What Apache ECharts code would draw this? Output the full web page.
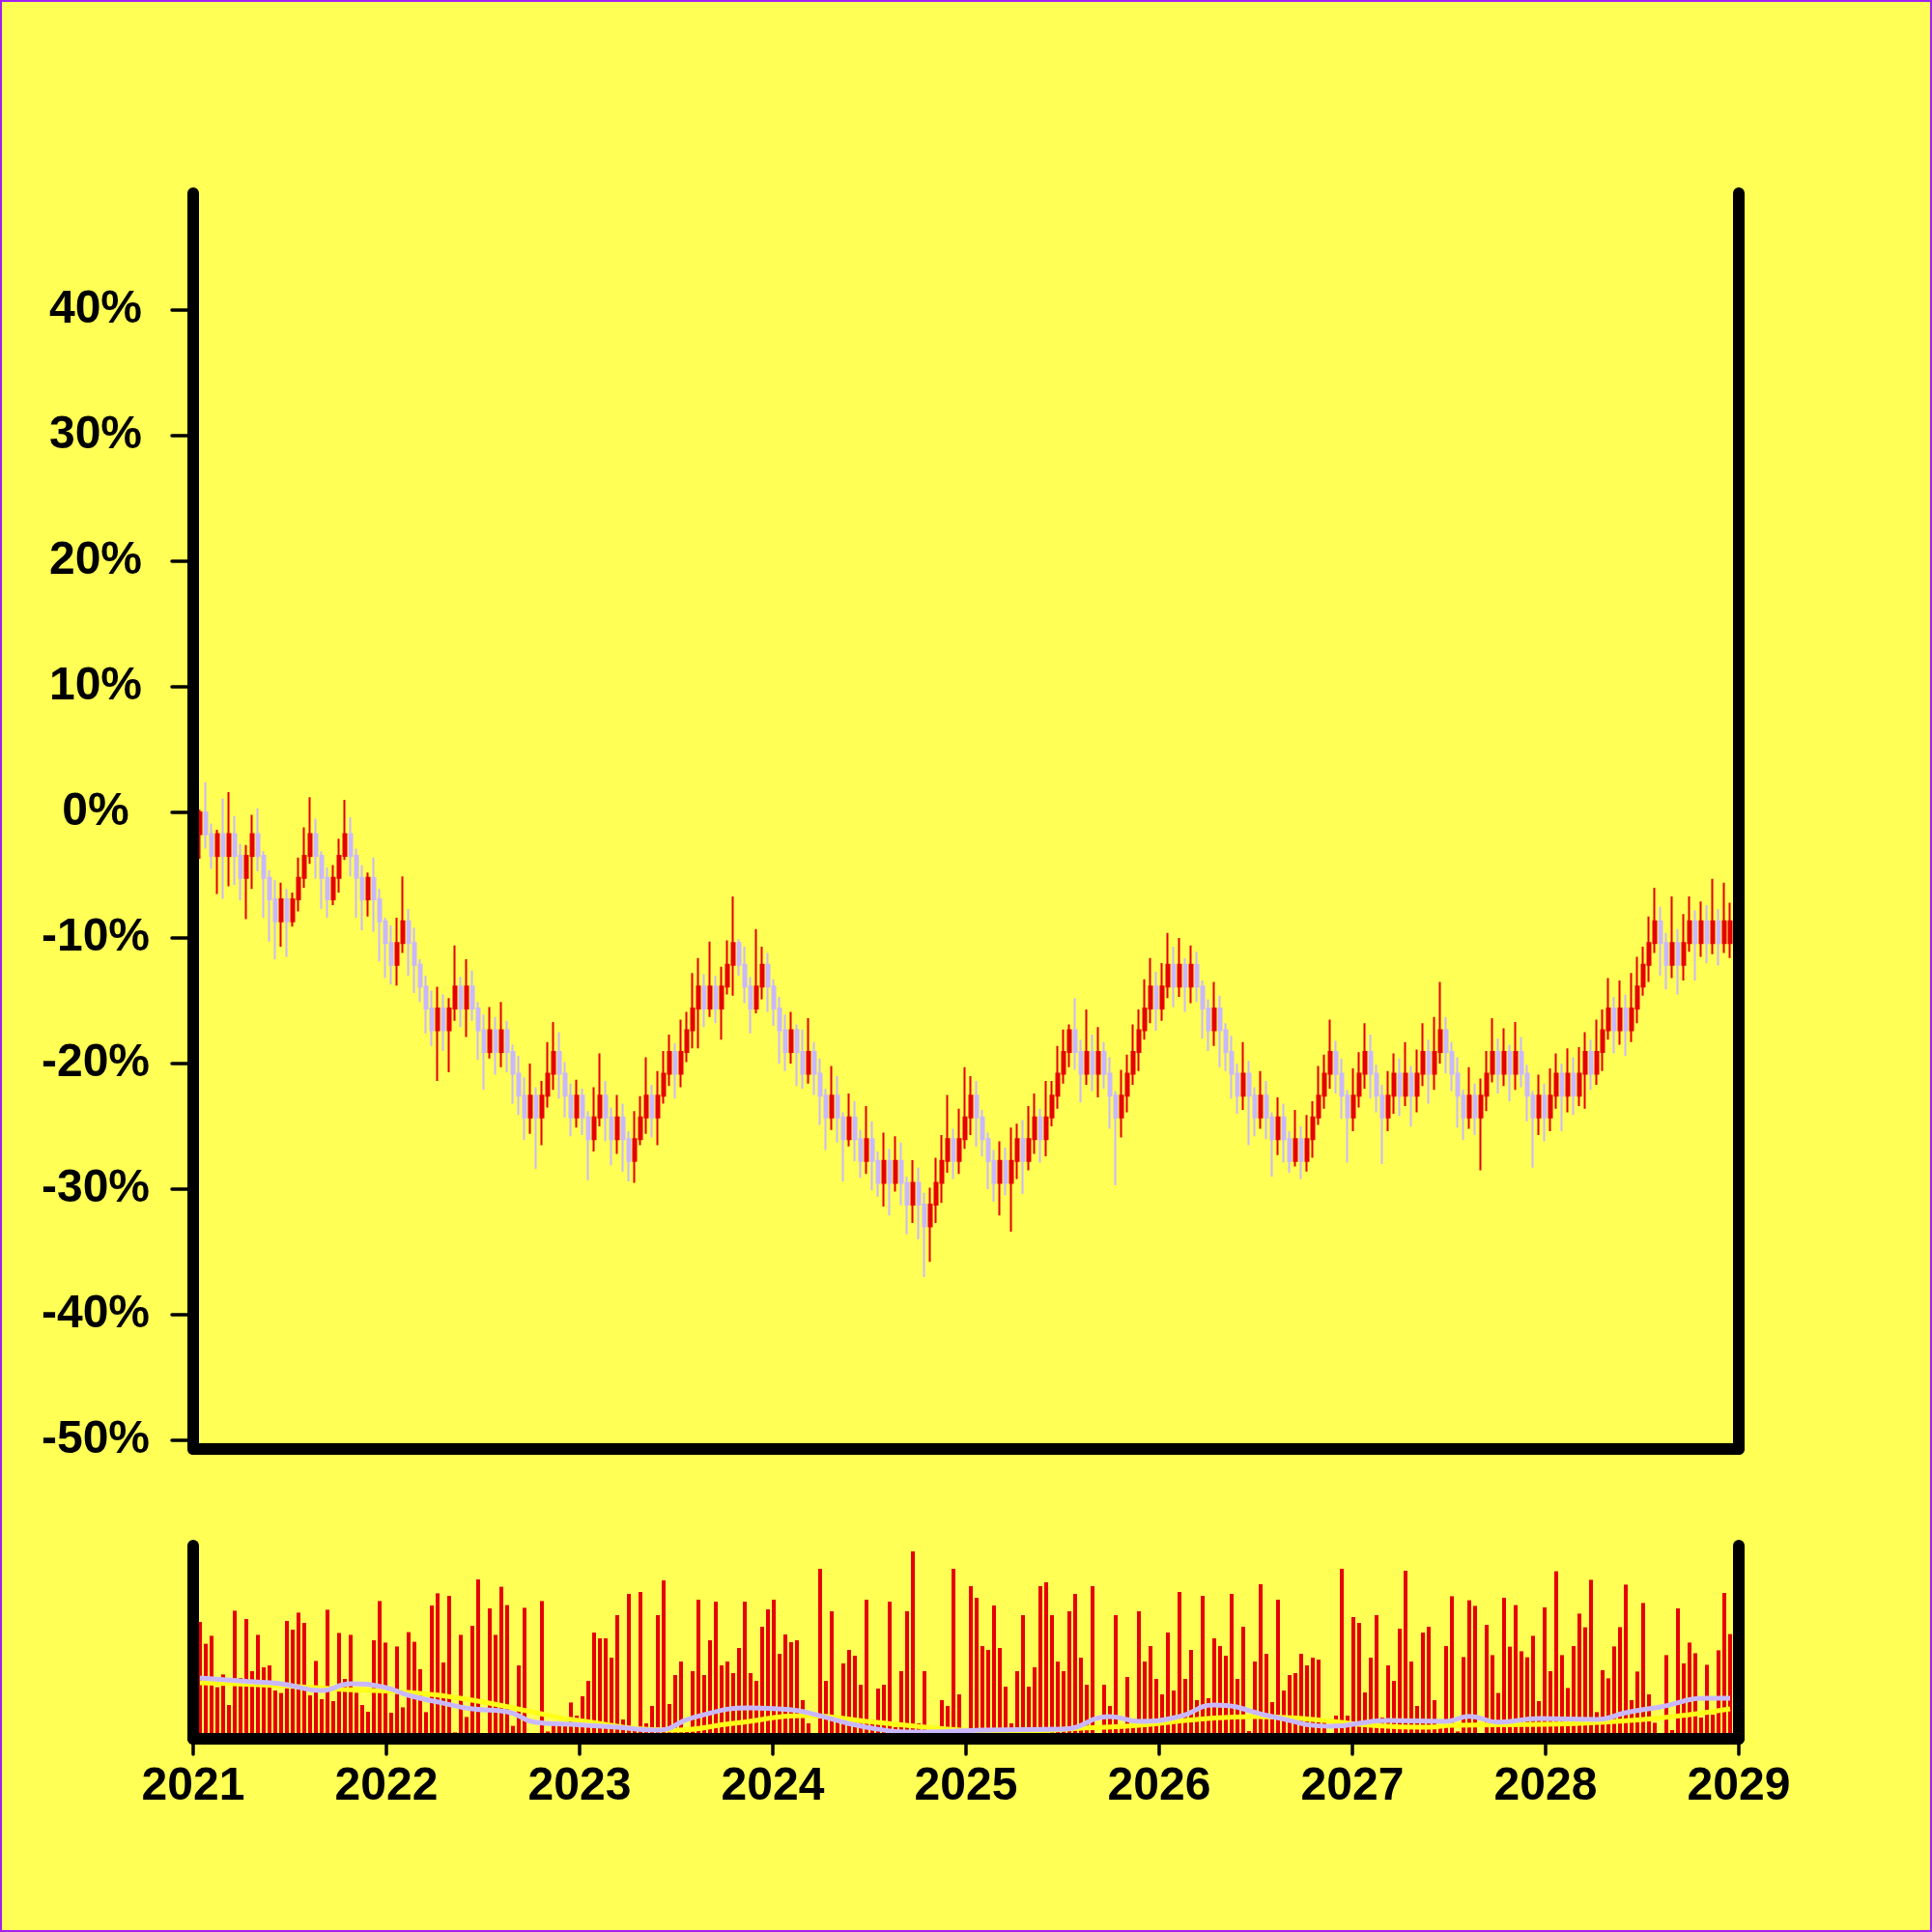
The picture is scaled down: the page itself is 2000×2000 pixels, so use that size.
<!DOCTYPE html>
<html><head><meta charset="utf-8">
<script src="https://cdn.jsdelivr.net/npm/echarts@6/dist/echarts.min.js"></script>
<style>html,body{margin:0;padding:0;background:#ffff55}#c{width:2000px;height:2000px}</style>
</head><body><div id="c"></div>
<script>
// ---- tick labels ----
const yTickValues = [-50, -40, -30, -20, -10, 0, 10, 20, 30, 40];
const yearTicks = [2021, 2022, 2023, 2024, 2025, 2026, 2027, 2028, 2029];

// ---- candle timing (decimal years) ----
const firstCandleYear = 2021.035;
const candleStepYears = 0.030;

// ---- OHLC in percent ----
const opens = [
-1.74,0,-1.74,-3.47,-1.74,-3.47,-1.74,-3.47,-5.21,-3.47,
-1.74,-3.47,-5.21,-6.94,-8.68,-6.94,-8.68,-6.94,-5.21,-3.47,
-1.74,-3.47,-5.21,-6.94,-5.21,-3.47,-1.74,-3.47,-5.21,-6.94,
-5.21,-6.94,-8.68,-10.41,-12.15,-10.41,-8.68,-10.41,-12.15,-13.88,
-15.62,-17.35,-15.62,-17.35,-15.62,-13.88,-15.62,-13.88,-15.62,-17.35,
-19.09,-17.35,-19.09,-17.35,-19.09,-20.82,-22.56,-24.29,-22.56,-24.29,
-22.56,-20.82,-19.09,-20.82,-22.56,-24.29,-22.56,-24.29,-26.03,-24.29,
-22.56,-24.29,-26.03,-24.29,-26.03,-27.76,-26.03,-24.29,-22.56,-24.29,
-22.56,-20.82,-19.09,-20.82,-19.09,-17.35,-15.62,-13.88,-15.62,-13.88,
-15.62,-13.88,-12.15,-10.41,-12.15,-13.88,-15.62,-13.88,-12.15,-13.88,
-15.62,-17.35,-19.09,-17.35,-19.09,-20.82,-19.09,-20.82,-22.56,-24.29,
-22.56,-24.29,-26.03,-24.29,-26.03,-27.76,-26.03,-27.76,-29.5,-27.76,
-29.5,-27.76,-29.5,-31.23,-29.5,-31.23,-32.97,-31.23,-29.5,-27.76,
-26.03,-27.76,-26.03,-24.29,-22.56,-24.29,-26.03,-27.76,-29.5,-27.76,
-29.5,-27.76,-26.03,-27.76,-26.03,-24.29,-26.03,-24.29,-22.56,-20.82,
-19.09,-17.35,-19.09,-20.82,-19.09,-20.82,-19.09,-20.82,-22.56,-24.29,
-22.56,-20.82,-19.09,-17.35,-15.62,-13.88,-15.62,-13.88,-12.15,-13.88,
-12.15,-13.88,-12.15,-13.88,-15.62,-17.35,-15.62,-17.35,-19.09,-20.82,
-22.56,-20.82,-22.56,-24.29,-22.56,-24.29,-26.03,-24.29,-26.03,-27.76,
-26.03,-27.76,-26.03,-24.29,-22.56,-20.82,-19.09,-20.82,-22.56,-24.29,
-22.56,-20.82,-19.09,-20.82,-22.56,-24.29,-22.56,-20.82,-22.56,-20.82,
-22.56,-20.82,-19.09,-20.82,-19.09,-17.35,-19.09,-20.82,-22.56,-24.29,
-22.56,-24.29,-22.56,-20.82,-19.09,-20.82,-19.09,-20.82,-19.09,-20.82,
-22.56,-24.29,-22.56,-24.29,-22.56,-20.82,-22.56,-20.82,-22.56,-20.82,
-19.09,-20.82,-19.09,-17.35,-15.62,-17.35,-15.62,-17.35,-15.62,-13.88,
-12.15,-10.41,-8.68,-10.41,-12.15,-10.41,-12.15,-10.41,-8.68,-10.41,
-8.68,-10.41,-8.68,-10.41,-10.41];
const closes = [
0,-1.74,-3.47,-1.74,-3.47,-1.74,-3.47,-5.21,-3.47,-1.74,
-3.47,-5.21,-6.94,-8.68,-6.94,-8.68,-6.94,-5.21,-3.47,-1.74,
-3.47,-5.21,-6.94,-5.21,-3.47,-1.74,-3.47,-5.21,-6.94,-5.21,
-6.94,-8.68,-10.41,-12.15,-10.41,-8.68,-10.41,-12.15,-13.88,-15.62,
-17.35,-15.62,-17.35,-15.62,-13.88,-15.62,-13.88,-15.62,-17.35,-19.09,
-17.35,-19.09,-17.35,-19.09,-20.82,-22.56,-24.29,-22.56,-24.29,-22.56,
-20.82,-19.09,-20.82,-22.56,-24.29,-22.56,-24.29,-26.03,-24.29,-22.56,
-24.29,-26.03,-24.29,-26.03,-27.76,-26.03,-24.29,-22.56,-24.29,-22.56,
-20.82,-19.09,-20.82,-19.09,-17.35,-15.62,-13.88,-15.62,-13.88,-15.62,
-13.88,-12.15,-10.41,-12.15,-13.88,-15.62,-13.88,-12.15,-13.88,-15.62,
-17.35,-19.09,-17.35,-19.09,-20.82,-19.09,-20.82,-22.56,-24.29,-22.56,
-24.29,-26.03,-24.29,-26.03,-27.76,-26.03,-27.76,-29.5,-27.76,-29.5,
-27.76,-29.5,-31.23,-29.5,-31.23,-32.97,-31.23,-29.5,-27.76,-26.03,
-27.76,-26.03,-24.29,-22.56,-24.29,-26.03,-27.76,-29.5,-27.76,-29.5,
-27.76,-26.03,-27.76,-26.03,-24.29,-26.03,-24.29,-22.56,-20.82,-19.09,
-17.35,-19.09,-20.82,-19.09,-20.82,-19.09,-20.82,-22.56,-24.29,-22.56,
-20.82,-19.09,-17.35,-15.62,-13.88,-15.62,-13.88,-12.15,-13.88,-12.15,
-13.88,-12.15,-13.88,-15.62,-17.35,-15.62,-17.35,-19.09,-20.82,-22.56,
-20.82,-22.56,-24.29,-22.56,-24.29,-26.03,-24.29,-26.03,-27.76,-26.03,
-27.76,-26.03,-24.29,-22.56,-20.82,-19.09,-20.82,-22.56,-24.29,-22.56,
-20.82,-19.09,-20.82,-22.56,-24.29,-22.56,-20.82,-22.56,-20.82,-22.56,
-20.82,-19.09,-20.82,-19.09,-17.35,-19.09,-20.82,-22.56,-24.29,-22.56,
-24.29,-22.56,-20.82,-19.09,-20.82,-19.09,-20.82,-19.09,-20.82,-22.56,
-24.29,-22.56,-24.29,-22.56,-20.82,-22.56,-20.82,-22.56,-20.82,-19.09,
-20.82,-19.09,-17.35,-15.62,-17.35,-15.62,-17.35,-15.62,-13.88,-12.15,
-10.41,-8.68,-10.41,-12.15,-10.41,-12.15,-10.41,-8.68,-10.41,-8.68,
-10.41,-8.68,-10.41,-8.68,-8.68];
const highs = [
0.2,2.4,-0.9,-1.4,1.1,1.6,-0.3,-2.5,-2.6,-0.2,
0.3,-3.1,-4.6,-5.4,-5.6,-6.1,-6.4,-3.6,-1.2,1.2,
-0.5,-3.1,-4.4,-4.2,-2.1,1.0,-0.4,-2.9,-4.2,-4.8,
-3.6,-6.1,-8.4,-9.0,-8.4,-5.1,-7.7,-9.2,-11.7,-13.0,
-14.2,-13.9,-14.5,-14.8,-10.6,-13.1,-11.7,-12.6,-15.1,-16.1,
-15.5,-16.3,-15.1,-16.6,-18.5,-19.4,-21.1,-20.0,-21.9,-21.4,
-18.3,-16.7,-17.5,-19.9,-21.6,-21.3,-22.0,-23.8,-21.9,-19.2,
-21.4,-23.5,-22.5,-23.2,-25.4,-23.8,-22.6,-19.5,-21.7,-20.6,
-19.0,-17.7,-18.4,-16.5,-15.9,-12.8,-11.6,-12.9,-10.3,-13.0,
-12.3,-10.2,-6.7,-10.1,-10.7,-13.1,-9.3,-10.7,-11.2,-13.3,
-14.7,-16.1,-15.9,-16.9,-17.3,-16.4,-18.3,-19.6,-22.0,-20.2,
-21.0,-23.9,-22.4,-23.0,-25.3,-23.4,-24.6,-27.0,-25.5,-26.8,
-25.8,-26.3,-29.0,-27.7,-28.3,-30.3,-29.9,-27.5,-25.7,-22.5,
-25.2,-23.6,-20.3,-21.0,-21.4,-23.7,-25.5,-26.9,-26.2,-26.7,
-25.1,-24.8,-24.5,-23.4,-22.4,-23.6,-21.4,-21.4,-18.6,-17.3,
-16.9,-14.8,-18.1,-15.7,-17.7,-17.1,-18.3,-19.5,-22.2,-20.5,
-19.3,-16.9,-15.7,-13.3,-11.6,-12.7,-12.0,-9.6,-10.7,-10.0,
-11.6,-10.6,-11.1,-13.4,-14.9,-13.5,-14.6,-16.8,-17.8,-20.0,
-18.3,-19.8,-21.9,-20.6,-21.4,-23.9,-22.7,-23.2,-25.4,-23.7,
-25.0,-24.1,-23.0,-20.2,-19.3,-16.5,-18.2,-19.6,-22.1,-20.4,
-19.1,-16.8,-17.7,-20.1,-21.7,-20.6,-19.2,-19.6,-18.3,-20.2,
-18.9,-16.8,-18.1,-16.3,-13.5,-16.3,-18.3,-19.5,-22.1,-20.3,
-21.6,-21.2,-19.0,-16.4,-18.0,-17.2,-18.5,-16.7,-17.9,-20.1,
-22.2,-20.9,-21.6,-20.4,-19.2,-20.0,-18.8,-19.5,-18.7,-17.5,
-18.1,-16.5,-15.7,-13.2,-14.7,-13.4,-14.5,-12.8,-11.5,-10.7,
-8.3,-6.0,-7.5,-9.6,-6.7,-9.3,-8.1,-6.7,-7.8,-7.1,
-7.4,-5.3,-7.7,-5.6,-7.2];
const lows = [
-3.7,-2.9,-4.5,-6.5,-6.9,-5.9,-5.8,-7.0,-8.5,-6.1,
-4.7,-8.4,-10.3,-11.7,-10.7,-11.5,-9.1,-7.9,-6.0,-4.1,
-5.3,-7.7,-8.4,-7.4,-6.4,-3.8,-5.1,-8.4,-9.4,-8.3,
-9.5,-11.9,-13.2,-13.7,-13.8,-11.2,-13.0,-14.4,-15.1,-17.6,
-18.6,-21.4,-19.0,-20.7,-16.6,-17.1,-17.9,-16.6,-19.7,-22.1,
-19.6,-20.9,-20.3,-20.7,-23.2,-24.1,-26.1,-25.6,-28.4,-26.5,
-23.5,-22.1,-22.8,-24.3,-25.8,-25.1,-25.7,-29.3,-27.0,-25.0,
-26.2,-28.1,-27.2,-28.6,-29.4,-29.5,-26.5,-25.6,-25.9,-26.5,
-23.2,-21.8,-22.8,-21.9,-19.9,-18.8,-18.8,-17.1,-16.3,-16.8,
-18.1,-14.5,-14.6,-13.0,-15.2,-17.6,-16.0,-14.9,-15.9,-17.0,
-20.0,-20.6,-20.0,-21.8,-22.0,-21.6,-22.5,-24.9,-26.9,-25.3,
-26.3,-29.4,-26.6,-27.8,-29.1,-28.8,-30.1,-30.6,-31.4,-32.1,
-30.2,-31.3,-33.6,-32.7,-34.0,-37.0,-35.8,-32.7,-31.1,-28.7,
-29.2,-28.8,-26.8,-25.7,-26.6,-27.4,-30.0,-31.0,-32.1,-30.5,
-33.4,-29.2,-30.4,-28.5,-27.2,-27.9,-27.4,-25.0,-23.6,-21.6,
-20.3,-20.5,-23.1,-21.7,-22.2,-22.7,-22.0,-25.2,-29.7,-25.9,
-23.9,-21.7,-20.6,-18.1,-16.8,-17.4,-16.6,-14.8,-15.5,-14.7,
-15.9,-15.2,-15.1,-18.0,-19.0,-18.6,-20.3,-20.6,-22.8,-24.0,
-23.7,-26.5,-25.8,-25.2,-26.0,-29.0,-27.3,-27.9,-28.7,-28.2,
-29.2,-28.6,-27.5,-24.9,-23.6,-22.0,-22.4,-24.4,-27.9,-25.4,
-23.5,-22.0,-22.8,-23.9,-28.0,-25.4,-24.0,-24.2,-23.4,-25.0,
-23.9,-21.8,-23.2,-22.1,-20.0,-20.8,-22.2,-25.1,-26.1,-25.2,
-25.7,-28.5,-23.8,-21.5,-22.4,-21.8,-23.0,-22.1,-21.9,-24.6,
-28.3,-25.7,-26.2,-25.4,-23.6,-25.4,-23.9,-24.1,-23.4,-23.6,
-22.1,-21.7,-20.6,-18.1,-19.2,-18.5,-19.4,-18.3,-16.8,-14.6,
-13.5,-11.2,-13.0,-14.1,-13.2,-14.5,-13.4,-11.1,-13.4,-11.5,
-12.0,-11.3,-12.2,-11.2,-11.6];

// ---- volume (relative units, 0-100) ----
const volumes = [
60.5,49.2,53.3,26.7,33.3,17.5,66.3,31.5,62,35,
53.8,37,38,25,23.7,61,56.5,65.3,60,22.5,
40.3,20.5,66.8,19.5,54.8,31,53.8,23.8,17.5,14,
51,71.3,49.8,13.5,47.8,16.3,55.2,50.2,36,13.8,
69,75.3,39.5,74,3.3,53.8,11.3,58.5,82.5,1.5,
67.5,53.8,78.7,69.2,6.7,38,67.8,1,1,71.3,
3.8,7,7,7,18.8,12,22,30,55,52,
52,42,64,10,75,5,76,8,17,64,
82,18,33,40,4,35,72,33,51,71,
38,40,34,47,71,34,30,58,67,72,
44,54,50,51,20,8,3,88,30,66,
10,39,46,43,28,72,10,26,28,71,
6,35,66,97,8,35,2,1,20,17,
88,23,2,79,73,48,46,69,47,27,
8,35,64,27,37,79,81,64,40,35,
66,75,42,28,79,3,28,17,64,6,
32,6,66,40,48,31,23,55,25,76,
31,46,20,74,21,52,48,43,75,31,
58,4,40,80,44,19,72,25,33,34,
44,38,42,41,10,2,12,88,12,63,
60,24,42,64,11,38,30,57,87,40,
17,55,58,20,6,48,
73.8,3.8,42.3,71.7,68.8,2,59,43.3,23.7,73,
47.7,69.2,45.3,42.2,53.3,19.5,68,35,86.7,43.3,
26.3,48,64.8,57.7,82.3,13.8,35.5,31.3,47.8,57.8,
79.8,20,34.8,70.3,23,8.3,1,43.3,4.5,67.5,
39,49.8,44.3,11,38.3,12.5,45.8,75.5,54.2];

// ---- moving-average lines (candle index, price %) ----
const maShortIdx = [0,8,14,21,26,32,36,42,47,53,58,64,72,79,85,95,102,105,115,125,135,149,157,162,169,175,185,195,205,215,219,224,231,241,246,252,260,264];
const maShortVals = [-1.2,-3.1,-4.4,-8,-4.4,-6.4,-10.6,-14.8,-17.9,-19.4,-25.2,-26.2,-27.8,-29.3,-22.6,-17.4,-18.4,-20,-27.8,-30.4,-29.3,-28.8,-22,-24.6,-22,-15.8,-22,-27.2,-24.1,-24.6,-21.9,-25,-23.1,-23.6,-20,-16.8,-12.2,-12.2];
const maLongIdx = [0,14,25,36,47,58,64,82,92,105,115,129,139,152,162,172,182,192,202,212,216,232,241,249,257,264];
const maLongVals = [-3.8,-5.4,-7.5,-9,-13.2,-20,-23.6,-29.3,-25.7,-21.5,-24.6,-28.8,-30.4,-28.3,-26.7,-23.6,-22,-23.6,-26.7,-27.8,-26.7,-26.2,-25.2,-23.6,-21,-17.9];

// ---- build ----
const n = Math.min(opens.length, closes.length, highs.length, lows.length, volumes.length);
const xs = [];
for (let i = 0; i < n; i++) xs.push(firstCandleYear + i * candleStepYears);
const candleData = [];
const volData = [];
for (let i = 0; i < n; i++) {
  candleData.push([xs[i], opens[i], closes[i], lows[i], highs[i]]);
  volData.push([xs[i], volumes[i]]);
}
const maShort = maShortIdx.map((k, j) => [xs[Math.min(k, n - 1)], maShortVals[j]]);
const maLong = maLongIdx.map((k, j) => [xs[Math.min(k, n - 1)], maLongVals[j]]);

const FONT = "'Liberation Sans', Arial, Helvetica, sans-serif";
const RED = '#e60000', LAV = '#c9b8ff', BG = '#ffff55';
const axisLine = { show: true, onZero: false, lineStyle: { color: '#000', width: 12, cap: 'round' } };
const lineOnlyY = (grid, min, max, pos) => ({
  type: 'value', gridIndex: grid, min: min, max: max, position: pos, z: 10,
  axisLine: axisLine, axisTick: { show: false }, axisLabel: { show: false }, splitLine: { show: false }
});

const chart = echarts.init(document.getElementById('c'), null, { renderer: 'canvas' });
chart.setOption({
  backgroundColor: BG,
  animation: false,
  grid: [
    { left: 200, right: 200, top: 200, height: 1300 },
    { left: 200, right: 200, top: 1600, height: 200 }
  ],
  xAxis: [
    { type: 'value', gridIndex: 0, min: yearTicks[0], max: yearTicks[yearTicks.length - 1], interval: 1, z: 10,
      axisLine: axisLine, axisTick: { show: false }, axisLabel: { show: false }, splitLine: { show: false } },
    { type: 'value', gridIndex: 1, min: yearTicks[0], max: yearTicks[yearTicks.length - 1], interval: 1, z: 10,
      axisLine: axisLine,
      axisTick: { show: true, length: 16, lineStyle: { color: '#000', width: 3.5, cap: 'round' } },
      axisLabel: { show: true, margin: 26, fontSize: 48, fontWeight: 'bold', fontFamily: FONT, color: '#000',
        formatter: v => String(Math.round(v)) },
      splitLine: { show: false } }
  ],
  yAxis: [
    { type: 'value', gridIndex: 0, min: -50.7, max: 49.3, position: 'left', z: 10,
      axisLine: axisLine,
      axisTick: { show: true, length: 22, customValues: yTickValues, lineStyle: { color: '#000', width: 3.5, cap: 'round' } },
      axisLabel: { show: true, customValues: yTickValues,
        formatter: v => Math.round(v) + '%', align: 'center', margin: 101,
        fontSize: 48, fontWeight: 'bold', fontFamily: FONT, color: '#000' },
      splitLine: { show: false } },
    lineOnlyY(0, -50.7, 49.3, 'right'),
    lineOnlyY(1, 0, 100, 'left'),
    lineOnlyY(1, 0, 100, 'right'),
    { type: 'value', gridIndex: 1, min: -34, max: 70, show: false }
  ],
  series: [
    { type: 'candlestick', xAxisIndex: 0, yAxisIndex: 0, data: candleData,
      encode: { x: 0, y: [1, 2, 3, 4] }, barWidth: 4,
      itemStyle: { color: RED, color0: LAV, borderColor: RED, borderColor0: LAV, borderWidth: 2 } },
    { type: 'bar', xAxisIndex: 1, yAxisIndex: 2, data: volData, barWidth: 4,
      itemStyle: { color: RED } },
    { type: 'line', xAxisIndex: 1, yAxisIndex: 4, data: maLong, smooth: true, showSymbol: false, z: 3,
      lineStyle: { color: '#ffff1a', width: 5 } },
    { type: 'line', xAxisIndex: 1, yAxisIndex: 4, data: maShort, smooth: true, showSymbol: false, z: 4,
      lineStyle: { color: LAV, width: 5 } }
  ],
  graphic: [
    { type: 'rect', z: 100, shape: { x: 1, y: 1, width: 1998, height: 1998 },
      style: { fill: 'none', stroke: '#a020f0', lineWidth: 2 } }
  ]
});
</script>
</body></html>
